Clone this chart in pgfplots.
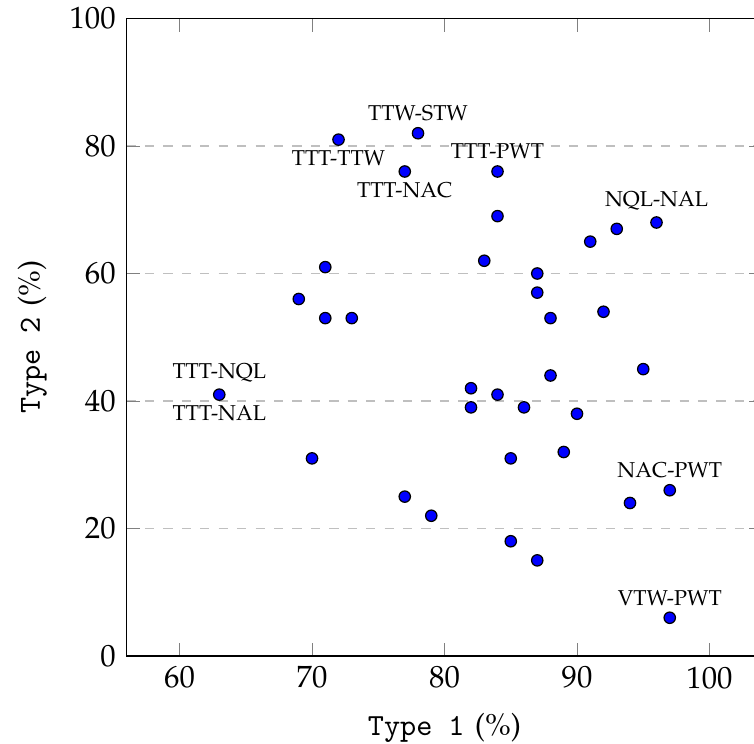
\documentclass[border=0pt]{standalone}
\usepackage{mathpazo}
\usepackage{pgfplots}
\pgfplotsset{compat=1.18}
\newcommand\pal{\fontencoding{OT1}\fontfamily{pplx}\selectfont}
\begin{document}
\begin{tikzpicture}
\begin{axis}[
  scale only axis, width=207pt, height=207.5pt,
  xmin=56, xmax=104, ymin=0, ymax=100,
  xtick={60,70,80,90,100}, ytick={0,20,40,60,80,100},
  ymajorgrids, grid style={dashed, gray!50},
  xlabel={\texttt{Type 1} {\pal(\%)}}, ylabel={\texttt{Type 2} {\pal(\%)}},
  label style={font=\normalsize},
  xlabel style={yshift=-1pt},
  ylabel style={yshift=0.5pt},
  clip=false,
]
\addplot[only marks, mark=*, mark size=1.85pt, mark options={fill=blue, draw=black, line width=0.4pt}] coordinates {
(63,41) (69,56) (70,31) (71,61) (71,53) (72,81) (73,53) (77,76) (77,25) (78,82)
(79,22) (82,42) (82,39) (83,62) (84,76) (84,69) (84,41) (85,31) (85,18) (86,39)
(87,60) (87,57) (87,15) (88,53) (88,44) (89,32) (90,38) (91,65) (92,54) (93,67)
(94,24) (95,45) (96,68) (97,26) (97,6)
};
\tikzset{lab/.style={font=\pal\scriptsize}}
\node[lab, above, yshift=0.5pt] at (axis cs:78,82) {TTW-STW};
\node[lab, below] at (axis cs:72,81) {TTT-TTW};
\node[lab, below] at (axis cs:77,76) {TTT-NAC};
\node[lab, above, yshift=0.5pt] at (axis cs:84,76) {TTT-PWT};
\node[lab, above, yshift=0.5pt] at (axis cs:96,68) {NQL-NAL};
\node[lab, above, yshift=0.5pt] at (axis cs:63,41) {TTT-NQL};
\node[lab, below] at (axis cs:63,41) {TTT-NAL};
\node[lab, above, yshift=0.5pt] at (axis cs:97,26) {NAC-PWT};
\node[lab, above, yshift=0.5pt] at (axis cs:97,6) {VTW-PWT};
\coordinate (bbSW) at (axis cs:46.45,-13.8);
\coordinate (bbNE) at (axis cs:103.36,102.9);
\end{axis}
\pgfresetboundingbox
\useasboundingbox (bbSW) rectangle (bbNE);
\end{tikzpicture}
\end{document}
